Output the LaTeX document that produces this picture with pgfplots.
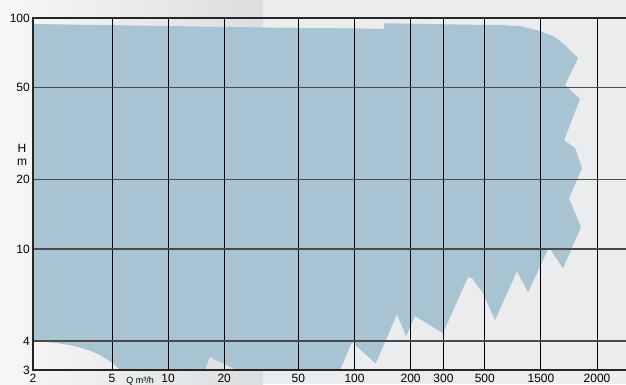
\documentclass[border=0pt]{standalone}
\usepackage{fontspec}
\setmainfont{Liberation Sans}
\usepackage{pgfplots}
\pgfplotsset{compat=1.18}

\definecolor{areablue}{HTML}{A8C3D1}
\definecolor{bgleft}{HTML}{F8F8F8}
\definecolor{bgmid}{HTML}{DCDDDF}
\definecolor{bgright}{HTML}{EBECEE}
\definecolor{gridh}{HTML}{4A4A4A}

\begin{document}
\begin{tikzpicture}[x=1pt,y=1pt]
% backdrop
\fill[left color=bgleft, right color=bgmid] (-33,-14) rectangle (230,370);
\fill[bgright] (230,-14) rectangle (593,370);

\begin{axis}[
    at={(0,0)}, anchor=south west,
    scale only axis, width=600pt, height=352pt,
    xmode=log, ymode=log,
    xmin=1.885, xmax=3119, ymin=3, ymax=100,
    axis on top, clip mode=individual,
    xtick={1.885,5,10,20,50,100,200,300,500,1000,2000},
    xticklabels={2,5,10,20,50,100,200,300,500,1500,2000},
    ytick={3,4,10,20,50,100},
    yticklabels={3,4,10,20,50,100},
    major tick length=0pt,
    minor tick num=0,
    xmajorgrids, ymajorgrids,
    x grid style={black, line width=0.9pt},
    y grid style={gridh, line width=1.3pt},
    axis line style={black!85, line width=1.6pt},
    tick label style={font=\fontsize{12}{14}\selectfont},
    /pgf/number format/assume math mode=true,
    xticklabel style={inner sep=1pt, yshift=-3pt},
    yticklabel style={inner sep=1pt, xshift=-2pt},
]
\addplot[fill=areablue, draw=none] coordinates {
(1.885,94.2) (51,90.5) (100.6,90.2) (144,89.6) (144,94.9)
(500,93.3) (603,93.3) (772,92.3) (988,87.9) (1190,82.7)
(1346,76.4) (1469,71.2) (1581,67.1) (1346,51.3) (1621,44.6)
(1330,29.6) (1524,27.4) (1661,22.4) (1414,16.6) (1640,12.45)
(1313,8.27) (1105,10.2) (853,6.51) (744,8.03) (567,4.93)
(489,6.45) (427,7.49) (406,7.57) (298,4.33) (211,5.13)
(189,4.20) (169,5.23) (130,3.20) (97,3.96) (83.6,3.0)
(23.4,3) (16.7,3.41) (15.8,3) (5.52,3) (5.19,3.15)
(5.08,3.20) (4.72,3.33) (4.31,3.48) (3.9,3.61) (3.51,3.72)
(3.0,3.84) (2.52,3.93) (2.15,3.97) (1.885,3.98)
} -- cycle;
\node[align=center, font=\fontsize{12}{13}\selectfont] at (rel axis cs:0,0.612) [xshift=-11pt] {H\\m};
\node[anchor=base, font=\fontsize{9}{10}\selectfont] at (axis cs:7.07,3) [yshift=-13.5pt] {Q m³/h};
\end{axis}
\pgfresetboundingbox
\path (-33,-14) rectangle (593,370);
\end{tikzpicture}
\end{document}
